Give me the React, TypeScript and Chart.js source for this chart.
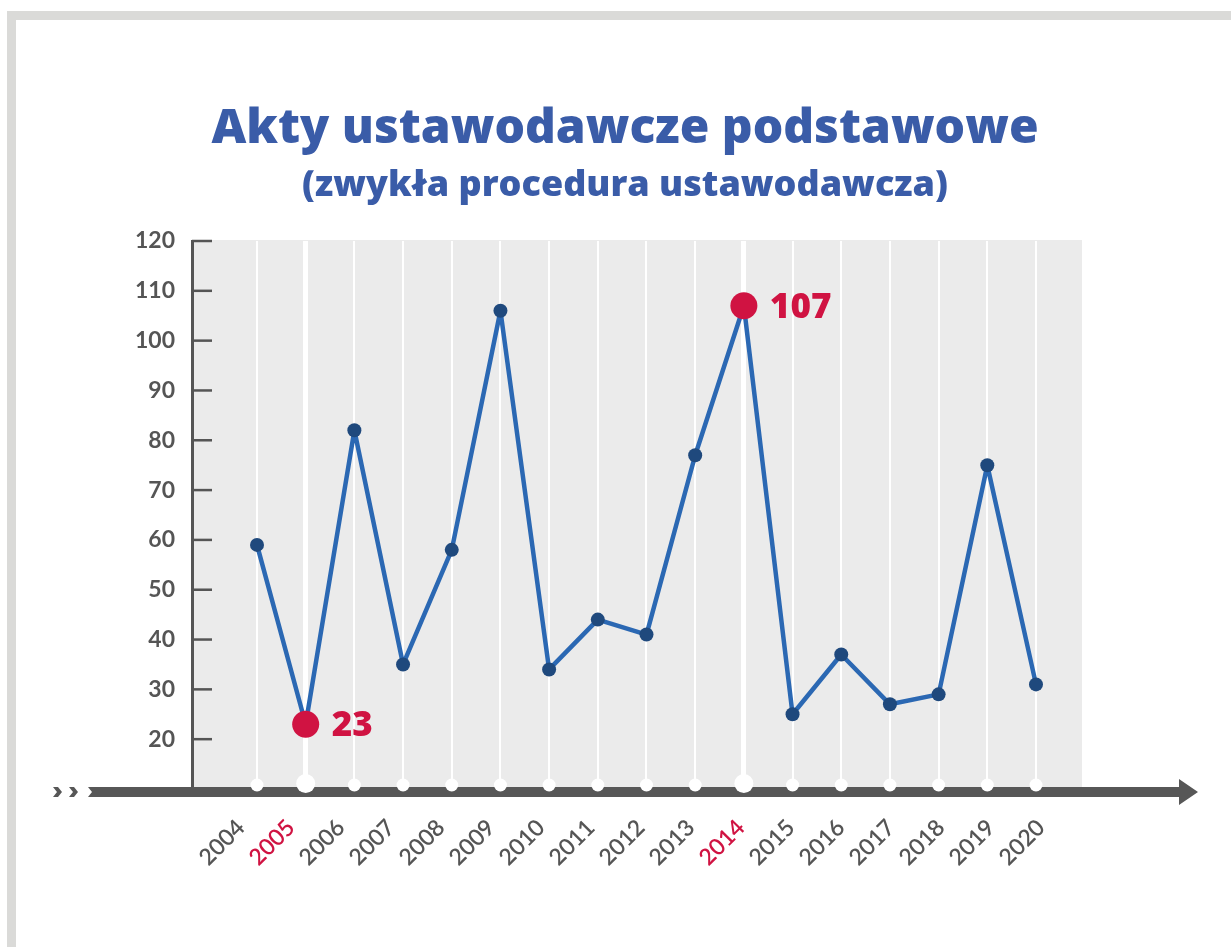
import React, { useEffect, useRef } from "react";
import { Chart, registerables } from "chart.js";

Chart.register(...registerables);

const years = [2004, 2005, 2006, 2007, 2008, 2009, 2010, 2011, 2012, 2013, 2014, 2015, 2016, 2017, 2018, 2019, 2020];
const values = [59, 23, 82, 35, 58, 106, 34, 44, 41, 77, 107, 25, 37, 27, 29, 75, 31];
const highlightYears = [2005, 2014];
const yTickValues = [20, 30, 40, 50, 60, 70, 80, 90, 100, 110, 120];
const titleText = "Akty ustawodawcze podstawowe";
const subtitleText = "(zwykła procedura ustawodawcza)";

const BLUE_TITLE = "#3a5ca8";
const CRIMSON = "#d01342";
const GRAY_TEXT = "#555555";
const AXIS_GRAY = "#575757";
const FONT = "Lato, 'Open Sans', sans-serif";
const TITLE_FONT = "'Open Sans', Lato, sans-serif";

const isHi = (v: number) => highlightYears.includes(v);

const decorPlugin = {
  id: "decor",
  beforeDraw(chart: any) {
    const { ctx, chartArea: ca } = chart;
    ctx.save();
    ctx.fillStyle = "#ffffff";
    ctx.fillRect(0, 0, chart.width, chart.height);
    ctx.fillStyle = "#dadad8";
    ctx.fillRect(7, 11, chart.width - 7, 9);
    ctx.fillRect(7, 11, 9, chart.height - 11);
    ctx.fillStyle = "#ebebeb";
    ctx.fillRect(ca.left, ca.top - 1, ca.right - ca.left, ca.bottom - ca.top);
    ctx.restore();
  },
  afterDatasetsDraw(chart: any) {
    const { ctx, chartArea: ca, scales } = chart;
    const xs = scales.x;
    const ys = scales.y;
    ctx.save();
    ctx.strokeStyle = GRAY_TEXT;
    ctx.lineWidth = 2.5;
    for (const v of yTickValues) {
      const y = ys.getPixelForValue(v);
      ctx.beginPath();
      ctx.moveTo(ca.left, y);
      ctx.lineTo(ca.left + 20, y);
      ctx.stroke();
    }
    const barTop = ca.bottom - 2;
    const barH = 10;
    const mid = barTop + barH / 2;
    ctx.fillStyle = AXIS_GRAY;
    ctx.beginPath();
    ctx.moveTo(88, barTop);
    ctx.lineTo(1179, barTop);
    ctx.lineTo(1179, mid - 13);
    ctx.lineTo(1198, mid);
    ctx.lineTo(1179, mid + 13);
    ctx.lineTo(1179, barTop + barH);
    ctx.lineTo(88, barTop + barH);
    ctx.lineTo(92, mid);
    ctx.closePath();
    ctx.fill();
    for (const cx of [53, 69]) {
      ctx.beginPath();
      ctx.moveTo(cx, barTop);
      ctx.lineTo(cx + 5, barTop);
      ctx.lineTo(cx + 9, mid);
      ctx.lineTo(cx + 5, barTop + barH);
      ctx.lineTo(cx, barTop + barH);
      ctx.lineTo(cx + 4, mid);
      ctx.closePath();
      ctx.fill();
    }
    ctx.fillStyle = "#ffffff";
    for (const yr of years) {
      const x = xs.getPixelForValue(yr);
      const hi = isHi(yr);
      ctx.beginPath();
      ctx.arc(x, hi ? barTop - 3.5 : barTop - 2, hi ? 9.5 : 6.5, 0, Math.PI * 2);
      ctx.fill();
    }
    ctx.fillStyle = CRIMSON;
    ctx.font = `800 35px ${TITLE_FONT}`;
    ctx.textAlign = "left";
    ctx.textBaseline = "alphabetic";
    years.forEach((yr, i) => {
      if (!isHi(yr)) return;
      const x = xs.getPixelForValue(yr);
      const y = ys.getPixelForValue(values[i]);
      ctx.fillText(String(values[i]), x + 26, y + 12);
    });
    ctx.fillStyle = BLUE_TITLE;
    ctx.textAlign = "center";
    ctx.font = `800 48px ${TITLE_FONT}`;
    ctx.fillText(titleText, 625, 143);
    ctx.font = `800 36px ${TITLE_FONT}`;
    ctx.fillText(subtitleText, 625, 196);
    ctx.restore();
  },
};

export default function App() {
  const ref = useRef<HTMLCanvasElement | null>(null);
  useEffect(() => {
    if (!ref.current) return;
    const chart = new Chart(ref.current, {
      type: "line",
      data: {
        datasets: [
          {
            xAxisID: "x",
            yAxisID: "y",
            data: years.map((yr, i) => ({ x: yr, y: values[i] })),
            borderColor: "#2b68b3",
            borderWidth: 4.5,
            borderJoinStyle: "round",
            tension: 0,
            pointRadius: (c: any) => (isHi(c.raw?.x) ? 13.5 : 7),
            pointBackgroundColor: (c: any) => (isHi(c.raw?.x) ? CRIMSON : "#1f497d"),
            pointBorderWidth: 0,
            pointHoverRadius: 7,
          },
        ],
      },
      options: {
        responsive: false,
        animation: false,
        devicePixelRatio: 1,
        events: [],
        layout: { padding: { left: 0, right: 149, top: 241, bottom: 0 } },
        plugins: { legend: { display: false }, tooltip: { enabled: false }, title: { display: false } },
        scales: {
          x: {
            type: "linear",
            position: "bottom",
            min: 2002.665,
            max: 2020.945,
            afterBuildTicks: (s: any) => {
              s.ticks = years.map((v) => ({ value: v }));
            },
            afterFit: (s: any) => {
              s.height = 0;
            },
            grid: {
              display: true,
              drawTicks: false,
              color: "#ffffff",
              lineWidth: (c: any) => (isHi(c.tick?.value) ? 5 : 2),
            },
            border: { display: false },
            ticks: { display: false },
          },
          xLabels: {
            type: "linear",
            position: "bottom",
            min: 2003.02,
            max: 2020.82,
            afterBuildTicks: (s: any) => {
              s.ticks = years.map((v) => ({ value: v }));
            },
            afterFit: (s: any) => {
              s.height = 158;
            },
            grid: { display: false, drawTicks: false },
            border: { display: false },
            ticks: {
              autoSkip: false,
              minRotation: 45,
              maxRotation: 45,
              padding: 25,
              color: (c: any) => (isHi(c.tick?.value) ? CRIMSON : GRAY_TEXT),
              font: { family: FONT, size: 23, weight: "600" as any },
              callback: (v: any) => String(v),
            },
          },
          y: {
            type: "linear",
            min: 10,
            max: 120,
            afterFit: (s: any) => {
              s.width = 192;
            },
            grid: { display: false },
            border: { display: true, color: GRAY_TEXT, width: 3 },
            ticks: {
              stepSize: 10,
              padding: 9,
              color: GRAY_TEXT,
              font: { family: FONT, size: 23, weight: "bold" as any },
              callback: (v: any) => (v === 10 ? null : String(v)),
            },
          },
        },
      },
      plugins: [decorPlugin],
    });
    return () => chart.destroy();
  }, []);
  return (
    <div style={{ position: "fixed", left: 0, top: 0, width: 1231, height: 947, background: "#fff" }}>
      <canvas ref={ref} width={1231} height={947} style={{ display: "block" }} />
    </div>
  );
}
